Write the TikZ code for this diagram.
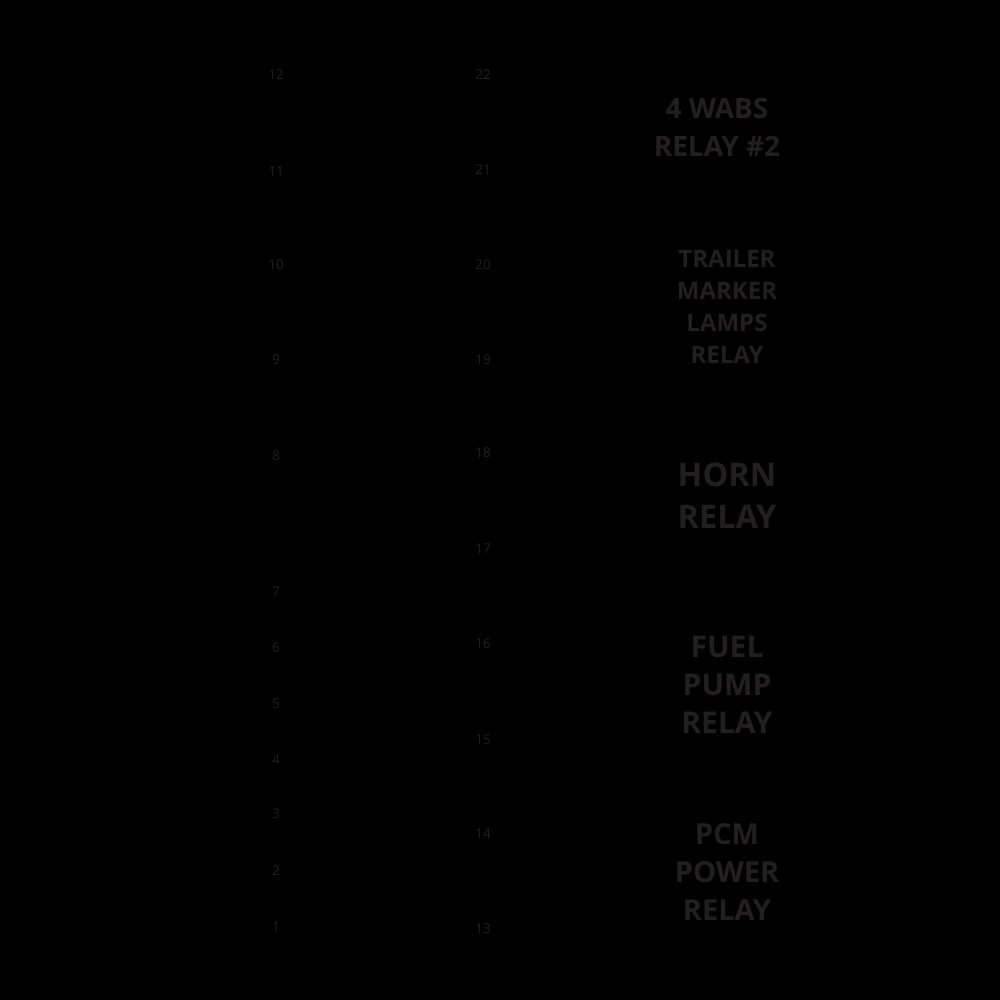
\documentclass[tikz,border=0pt]{standalone}
\usepackage{fontspec}
\setmainfont{Open Sans}
\definecolor{ink}{HTML}{231F20}
\begin{document}
\begin{tikzpicture}[x=1pt,y=-1pt,
  num/.style={text=ink,font=\fontsize{13.5}{13.5}\selectfont,inner sep=0pt,anchor=center},
  lbl/.style={text=ink,font=\bfseries,align=center,inner sep=0pt,anchor=center}]
\fill[black] (0,0) rectangle (1000,1000);
\useasboundingbox (0,0) rectangle (1000,1000);
% left column
\foreach \n/\y in {12/75,11/172,10/265,9/360,8/456,7/592,6/648,5/704,4/760,3/814,2/871,1/927}
  \node[num] (l\n) at (276,\y) {\n};
% right column
\foreach \n/\y in {22/75,21/170,20/265,19/360,18/453,17/549,16/644,15/740,14/834,13/929}
  \node[num] (r\n) at (483,\y) {\n};
% labels
\node[lbl,font=\bfseries\fontsize{28}{38}\selectfont] (wabs) at (717,127) {4 WABS\\RELAY \#2};
\node[lbl,font=\bfseries\fontsize{24}{32}\selectfont] (trailer) at (727,307) {TRAILER\\MARKER\\LAMPS\\RELAY};
\node[lbl,font=\bfseries\fontsize{32.5}{42}\selectfont] (horn) at (727,496) {HORN\\RELAY};
\node[lbl,font=\bfseries\fontsize{30}{38}\selectfont] (fuel) at (727,685) {FUEL\\PUMP\\RELAY};
\node[lbl,font=\bfseries\fontsize{29}{38}\selectfont] (pcm) at (727,872) {PCM\\POWER\\RELAY};
\end{tikzpicture}
\end{document}
